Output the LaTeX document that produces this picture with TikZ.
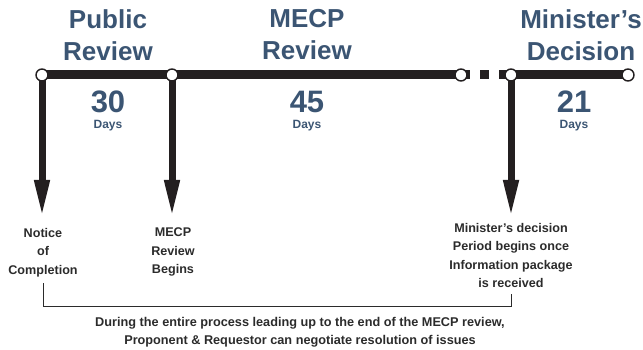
\documentclass[tikz,border=0pt]{standalone}
\usepackage{fontspec}
\setmainfont{Liberation Sans}
\usetikzlibrary{positioning, calc, arrows.meta, backgrounds}

\definecolor{headblue}{HTML}{3B5573}
\definecolor{barblack}{HTML}{231F20}
\definecolor{notegray}{HTML}{2B2B2B}

\begin{document}
\begin{tikzpicture}[x=1pt, y=-1pt]
  \newcommand\barthickness{9pt}
  \newcommand\shaftthickness{7pt}
  \newcommand\milestonesize{12pt}
  \useasboundingbox (0,0) rectangle (643,350);

  \tikzset{
    stagehead/.style={text=headblue, font=\fontsize{26}{32}\selectfont\bfseries, align=center, inner sep=0pt},
    daycount/.style={text=headblue, font=\fontsize{31}{31}\selectfont\bfseries, inner sep=0pt},
    daylabel/.style={text=headblue, font=\fontsize{12}{14}\selectfont\bfseries, inner sep=0pt},
    milestone/.style={circle, draw=barblack, fill=white, line width=1.4pt, minimum size=\milestonesize, inner sep=0pt},
    timebar/.style={draw=barblack, line width=\barthickness},
    droparrow/.style={draw=barblack, line width=\shaftthickness, -{Triangle[length=38pt, width=14pt]}},
    notetext/.style={text=notegray, font=\fontsize{12.6}{18.5}\selectfont\bfseries, align=center, inner sep=0pt},
    bracket/.style={draw=notegray, line width=0.9pt},
  }

  % milestones on the time line
  \node[milestone] at (42,75) (m1) {};
  \node[milestone] at (172,75) (m2) {};
  \node[milestone] at (461,75) (m3) {};
  \node[milestone] at (511,75) (m4) {};
  \node[milestone] at (628,75) (m5) {};

  \coordinate (a1) at (42,218);
  \coordinate (a2) at (172,218);
  \coordinate (a4) at (511,218);

  \begin{scope}[on background layer]
    \draw[timebar] (m1.center) -- (m3.center);
    \draw[timebar, dash pattern=on 9pt off 10pt on 9pt off 10pt on 30pt] (m3.center) -- (m4.center);
    \draw[timebar] (m4.center) -- (m5.center);
    \foreach \i in {1,2,4}{
      \draw[droparrow] (m\i.center) -- (a\i);
    }
  \end{scope}

  % stage names and durations
  \foreach \name/\x [count=\n] in {Public\\Review/108, MECP\\Review/307, Minister’s\\Decision/581}{
    \node[stagehead] at (\x,35) (h\n) {\name};
  }
  \node[daycount] at (108,102) (d1) {30};
  \node[daycount] at (307,102) (d2) {45};
  \node[daycount] at (574,102) (d3) {21};
  \foreach \n in {1,2,3}{
    \node[daylabel, below=7pt of d\n] (dl\n) {Days};
  }

  % notes under the arrows
  \node[notetext, anchor=north] at (43,228) (n1) {Notice\\of\\Completion};
  \node[notetext, anchor=north] at (173,228) (n2) {MECP\\Review\\Begins};
  \node[notetext, anchor=north] at (511,223) (n3) {Minister’s decision\\Period begins once\\Information package\\is received};

  \coordinate (b1) at (0,306);
  \draw[bracket] ([yshift=-6pt]n1.south) |- (b1 -| n3) -- ([yshift=-6pt]n3.south);
  \node[notetext, font=\fontsize{12.7}{18}\selectfont\bfseries] at (300,332) (n4)
    {During the entire process leading up to the end of the MECP review,\\Proponent \& Requestor can negotiate resolution of issues};
\end{tikzpicture}
\end{document}
